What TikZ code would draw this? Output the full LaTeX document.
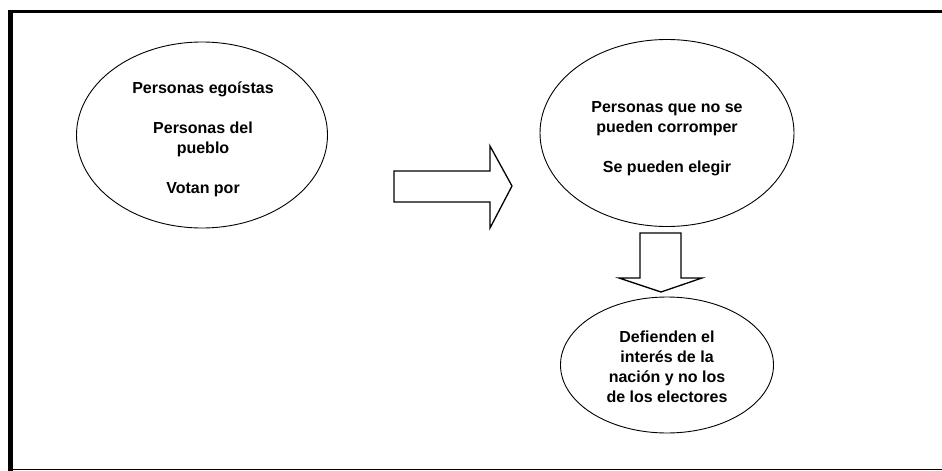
\documentclass[tikz,border=0pt]{standalone}
\usepackage{fontspec}
\setmainfont{Liberation Sans}
\usetikzlibrary{shapes.geometric}
\begin{document}
\begin{tikzpicture}[x=1pt,y=-1pt,
  bubble/.style={draw,ellipse,line width=0.9pt,inner sep=0pt},
  label/.style={font=\fontsize{16}{20}\selectfont\bfseries,align=center,anchor=base,inner sep=0pt},
  blockarrow/.style={draw,line width=1.3pt,line join=miter}]
\useasboundingbox (0,0) rectangle (942,471);
\fill[white] (0,0) rectangle (942,471);
% frame
\draw[line width=3pt] (8,11) -- (944,11);
\draw[line width=5pt] (10,9.5) -- (10,473);
\draw[line width=1.5pt] (8,469.5) -- (944,469.5);
% ellipses
\node[bubble,minimum width=251pt,minimum height=186pt] (e1) at (202,135) {};
\node[bubble,minimum width=254pt,minimum height=187pt] (e2) at (667,133) {};
\node[bubble,minimum width=213pt,minimum height=136pt] (e3) at (667,365) {};
% texts (base anchor = baseline of last line)
\node[label] (t1a) at (203,93) {Personas egoístas};
\node[label] (t1b) at (203,153) {Personas del\\pueblo};
\node[label] (t1c) at (203,193) {Votan por};
\node[label] (t2a) at (667,132) {Personas que no se\\pueden corromper};
\node[label] (t2b) at (667,172) {Se pueden elegir};
\node[label] (t3) at (667,402) {Defienden el\\interés de la\\nación y no los\\de los electores};
% right block arrow
\draw[blockarrow] (394,171) -- (490,171) -- (490,146) -- (512,186) -- (490,228) -- (490,202) -- (394,202) -- cycle;
% down block arrow
\draw[blockarrow] (640,233) -- (681,233) -- (681,278) -- (702,278) -- (661,292) -- (619,278) -- (640,278) -- cycle;
\end{tikzpicture}
\end{document}
